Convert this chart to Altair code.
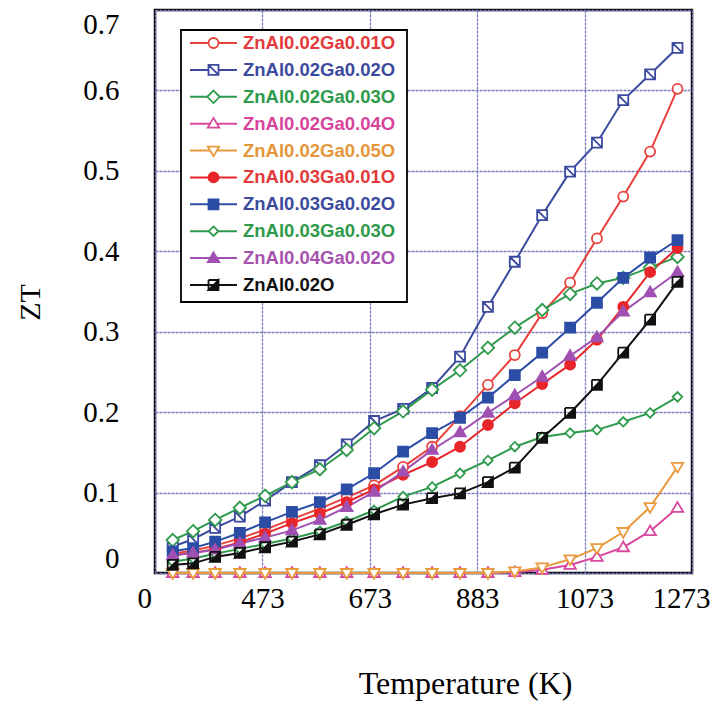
import altair as alt
import pandas as pd

# ---------------- data ----------------
temperatures = [333, 371, 412, 458, 505, 555, 607, 657, 708, 762,
                816, 868, 920, 970, 1021, 1073, 1123, 1172, 1222, 1273]

series_names = [
    "ZnAl0.02Ga0.01O", "ZnAl0.02Ga0.02O", "ZnAl0.02Ga0.03O", "ZnAl0.02Ga0.04O",
    "ZnAl0.02Ga0.05O", "ZnAl0.03Ga0.01O", "ZnAl0.03Ga0.02O", "ZnAl0.03Ga0.03O",
    "ZnAl0.04Ga0.02O", "ZnAl0.02O",
]

zt_al02_ga01 = [0.024, 0.028, 0.034, 0.043, 0.054, 0.067, 0.080, 0.094, 0.109, 0.132,
                0.157, 0.195, 0.234, 0.271, 0.323, 0.361, 0.416, 0.468, 0.524, 0.602]
zt_al02_ga02 = [0.033, 0.042, 0.056, 0.070, 0.090, 0.113, 0.134, 0.160, 0.189, 0.204,
                0.230, 0.269, 0.331, 0.387, 0.445, 0.499, 0.535, 0.588, 0.620, 0.653]
zt_al02_ga03 = [0.041, 0.052, 0.066, 0.081, 0.096, 0.113, 0.129, 0.153, 0.180, 0.201,
                0.228, 0.252, 0.280, 0.305, 0.327, 0.347, 0.360, 0.367, 0.380, 0.393]
zt_al02_ga04 = [0.0, 0.0, 0.0, 0.0, 0.0, 0.0, 0.0, 0.0, 0.0, 0.0,
                0.0, 0.0, 0.0, 0.001, 0.004, 0.010, 0.020, 0.032, 0.052, 0.081]
zt_al02_ga05 = [0.0, 0.0, 0.0, 0.0, 0.0, 0.0, 0.0, 0.0, 0.0, 0.0,
                0.0, 0.0, 0.0, 0.002, 0.007, 0.017, 0.031, 0.051, 0.082, 0.132]
zt_al03_ga01 = [0.022, 0.025, 0.030, 0.038, 0.049, 0.062, 0.074, 0.088, 0.104, 0.122,
                0.138, 0.157, 0.184, 0.211, 0.235, 0.259, 0.290, 0.331, 0.374, 0.404]
zt_al03_ga02 = [0.027, 0.031, 0.039, 0.050, 0.063, 0.076, 0.088, 0.104, 0.124, 0.151,
                0.174, 0.193, 0.218, 0.246, 0.274, 0.305, 0.336, 0.367, 0.392, 0.414]
zt_al03_ga03 = [0.014, 0.018, 0.024, 0.030, 0.036, 0.043, 0.052, 0.064, 0.078, 0.095,
                0.107, 0.124, 0.140, 0.157, 0.169, 0.174, 0.178, 0.188, 0.199, 0.219]
zt_al04_ga02 = [0.022, 0.025, 0.029, 0.037, 0.044, 0.053, 0.066, 0.082, 0.101, 0.126,
                0.153, 0.175, 0.199, 0.221, 0.244, 0.270, 0.293, 0.325, 0.349, 0.374]
zt_al02 = [0.010, 0.012, 0.020, 0.025, 0.032, 0.039, 0.048, 0.060, 0.073, 0.085,
           0.093, 0.099, 0.113, 0.131, 0.168, 0.199, 0.234, 0.274, 0.315, 0.362]

series_values = [zt_al02_ga01, zt_al02_ga02, zt_al02_ga03, zt_al02_ga04, zt_al02_ga05,
                 zt_al03_ga01, zt_al03_ga02, zt_al03_ga03, zt_al04_ga02, zt_al02]

x_tick_values = [300, 500, 700, 900, 1100, 1300]
x_tick_labels = ["0", "473", "673", "883", "1073", "1273"]
y_tick_values = [0, 0.1, 0.2, 0.3, 0.4, 0.5, 0.6, 0.7]

# ---------------- styles ----------------
stroke_colors = ["#E8403A", "#3B4A9E", "#2F9A4C", "#D9489E", "#E99A3C",
                 "#E8262A", "#2C4DA6", "#2F9A4C", "#A050B2", "#111111"]
fill_colors = ["white", "white", "white", "white", "white",
               "#E8262A", "#2C4DA6", "white", "#A050B2", "#111111"]
text_colors = ["#E23A3A", "#3C4A9E", "#2E9A4A", "#D6449C", "#E3963A",
               "#E23A3A", "#3C4A9E", "#2E9A4A", "#A653B0", "#111111"]

circle = "M-1,0A1,1 0 1,1 1,0A1,1 0 1,1 -1,0Z"
square = "M-1,-1L1,-1L1,1L-1,1Z"
square_diag = square + "M-1,-1L1,1Z"
diamond = "M0,-1.25L1.25,0L0,1.25L-1.25,0Z"
small_diamond = "M0,-0.95L0.95,0L0,0.95L-0.95,0Z"
tri_up = "M0,-1.15L1.15,0.8L-1.15,0.8Z"
tri_down = "M0,1.15L1.15,-0.8L-1.15,-0.8Z"
half_square = "M1,-1L1,1L-1,1ZM-1,1L-1,-1ZM-1,-1L1,-1Z"

marker_paths = [circle, square_diag, diamond, tri_up, tri_down,
                circle, square, small_diamond, tri_up, half_square]

label_expr = "[" + ",".join(f"'{t}'" for t in x_tick_labels) + "][indexof([" + \
    ",".join(str(v) for v in x_tick_values) + "], datum.value)]"

rows = []
for order, (name, vals) in enumerate(zip(series_names, series_values)):
    for t, v in zip(temperatures, vals):
        rows.append({"series": name, "order": order, "T": t, "ZT": v})
df = pd.DataFrame(rows)
legend_df = pd.DataFrame({"series": series_names})

serif = "Liberation Serif"

x_enc = alt.X(
    "T:Q",
    scale=alt.Scale(domain=[300, 1300], nice=False, zero=False),
    axis=alt.Axis(
        values=x_tick_values, labelExpr=label_expr, title="Temperature (K)",
        grid=True, ticks=False, domain=False, labelFont=serif, labelFontSize=29,
        labelColor="black", labelPadding=11, labelFlush=True, labelFlushOffset=18,
        titleFont=serif, titleFontSize=32, titleFontWeight="normal", titleColor="black",
        titleX=310, titleY=110, titleBaseline="middle", titleAnchor="middle",
    ),
)
y_enc = alt.Y(
    "ZT:Q",
    scale=alt.Scale(domain=[0, 0.7], nice=False),
    axis=alt.Axis(
        values=y_tick_values, format=".1~f", title="ZT", grid=True, ticks=False,
        domain=False, labelFont=serif, labelFontSize=29, labelColor="black",
        labelPadding=36, labelFlush=True,
        titleFont=serif, titleFontSize=30, titleFontWeight="normal", titleColor="black",
        titleX=-125, titleY=292, titleBaseline="middle", titleAnchor="middle",
    ),
)

stroke_scale = alt.Scale(domain=series_names, range=stroke_colors)
fill_scale = alt.Scale(domain=series_names, range=fill_colors)
shape_scale = alt.Scale(domain=series_names, range=marker_paths)

lines = alt.Chart(df).mark_line(strokeWidth=2).encode(
    x=x_enc, y=y_enc,
    stroke=alt.Stroke("series:N", scale=stroke_scale, legend=None),
    order="T:Q",
)

points = alt.Chart(df).mark_point(filled=True, size=100, strokeWidth=1.8, opacity=1).encode(
    x=x_enc, y=y_enc,
    stroke=alt.Stroke("series:N", scale=stroke_scale, legend=None),
    fill=alt.Fill("series:N", scale=fill_scale, legend=None),
    shape=alt.Shape("series:N", scale=shape_scale, legend=None),
)

# ---------------- legend (built from the series list) ----------------
leg_y = alt.Y("series:N", scale=alt.Scale(type="point", domain=series_names,
                                          range=[33, 275], padding=0), axis=None)

leg_box = alt.Chart(pd.DataFrame({"k": [0]})).mark_rect(
    fill="white", stroke="black", strokeWidth=1.8
).encode(x=alt.value(26), x2=alt.value(252), y=alt.value(20), y2=alt.value(292))

leg_rules = alt.Chart(legend_df).mark_rule(strokeWidth=2).encode(
    x=alt.value(35), x2=alt.value(82), y=leg_y,
    stroke=alt.Stroke("series:N", scale=stroke_scale, legend=None),
)

leg_points = alt.Chart(legend_df).mark_point(filled=True, size=100, strokeWidth=1.8, opacity=1).encode(
    x=alt.value(58.5), y=leg_y,
    stroke=alt.Stroke("series:N", scale=stroke_scale, legend=None),
    fill=alt.Fill("series:N", scale=fill_scale, legend=None),
    shape=alt.Shape("series:N", scale=shape_scale, legend=None),
)

leg_text = alt.Chart(legend_df).mark_text(
    align="left", baseline="middle", font="Liberation Sans", fontSize=18.5, fontWeight="bold"
).encode(
    x=alt.value(88), y=leg_y, text="series:N",
    color=alt.Color("series:N", scale=alt.Scale(domain=series_names, range=text_colors), legend=None),
)

plot = alt.layer(lines, points)
legend_layer = alt.layer(leg_box, leg_rules, leg_points, leg_text)

chart = alt.layer(plot, legend_layer).resolve_scale(y="independent").properties(
    width=537, height=563,
    autosize=alt.AutoSizeParams(type="none"),
    padding={"left": 155, "top": 10, "right": 23, "bottom": 129},
    background="white",
).configure_view(
    stroke="black", strokeWidth=2.5, fill="white",
).configure_axis(
    gridColor="#7B7BBF", gridWidth=1.3, gridDash=[3, 1], gridOpacity=1,
)

chart.save("out.html", embed_options={"renderer": "svg", "actions": False})
